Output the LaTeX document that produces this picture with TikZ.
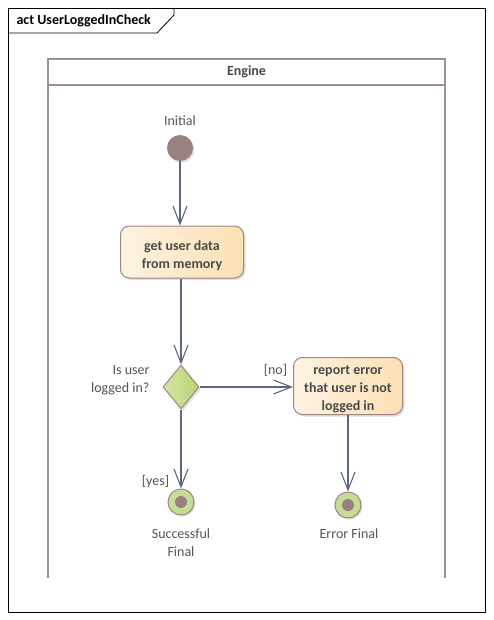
\documentclass[tikz,border=0pt]{standalone}
\usepackage{fontspec}
\setmainfont{Carlito}
\usetikzlibrary{arrows.meta,shapes.geometric,shadows}
\definecolor{edge}{HTML}{5B6683}
\definecolor{bord}{HTML}{A08585}
\definecolor{pool}{HTML}{9D8F8F}
\definecolor{initc}{HTML}{9A8080}
\definecolor{txt}{HTML}{4A4A4A}
\definecolor{lbl}{HTML}{555555}
\definecolor{crL}{HTML}{FDF3E2}
\definecolor{crR}{HTML}{FCE0B3}
\definecolor{grL}{HTML}{D3E6A0}
\definecolor{grR}{HTML}{B9D47A}
\tikzset{
  x=1pt,y=-1pt,
  every node/.style={font=\fontsize{14}{18}\selectfont},
  actbox/.style={draw=bord,line width=1pt,rounded corners=9pt,left color=crL,right color=crR,
    minimum width=123pt,minimum height=52pt,inner sep=0pt,
    drop shadow={shadow xshift=2pt,shadow yshift=-2pt,opacity=0.25}},
  acttext/.style={align=center,text=txt,font=\fontsize{14}{18}\selectfont\bfseries,inner sep=0pt},
  decis/.style={diamond,draw=bord,line width=1pt,left color=grL,right color=grR,minimum width=36pt,minimum height=44pt,inner sep=0pt,aspect=0.82,
    drop shadow={shadow xshift=2pt,shadow yshift=-2pt,opacity=0.25}},
  initn/.style={circle,fill=initc,minimum size=26pt,inner sep=0pt,
    drop shadow={shadow xshift=1.5pt,shadow yshift=-1.5pt,opacity=0.25}},
  finaln/.style={circle,draw=bord,line width=1pt,fill=grR!80!white,minimum size=26pt,inner sep=0pt,
    drop shadow={shadow xshift=1.5pt,shadow yshift=-1.5pt,opacity=0.25}},
  dotn/.style={circle,fill=initc,minimum size=12pt,inner sep=0pt},
  flow/.style={draw=edge,line width=1.1pt,-{Straight Barb[length=18pt,width=14pt,line width=1.1pt]}},
  lab/.style={text=lbl,align=center},
}
\begin{document}
\begin{tikzpicture}
\useasboundingbox (0,0) rectangle (493,620);
\fill[white] (0,0) rectangle (493,620);
% frame
\draw[black,line width=0.8pt] (8,8) rectangle (485,612);
\draw[black,line width=0.8pt] (8,33) -- (157,33) -- (174,15) -- (174,8);
\node[anchor=west,font=\fontsize{14}{16}\selectfont\bfseries] (title) at (13,20.5) {act UserLoggedInCheck};
% pool
\draw[pool,line width=1.8pt] (48,578) -- (48,59) -- (445,59) -- (445,578);
\draw[pool,line width=1.8pt] (48,85) -- (445,85);
\node[text=txt,font=\fontsize{14}{16}\selectfont\bfseries] (pool) at (246.5,72) {Engine};
% nodes
\node[initn] (init) at (180,148) {};
\node[lab,anchor=south] (initl) at (180,129) {Initial};
\node[actbox] (get) at (182,252) {};
\node[acttext] (gett) at ([yshift=-3.5pt]get.center) {get user data\\from memory};
\node[decis] (dec) at (181,387) {};
\node[lab,align=right,anchor=east] (decl) at (153,380) {Is user\\logged in?};
\node[actbox,minimum width=109pt,minimum height=57pt] (rep) at (348,386) {};
\node[acttext] (rept) at ([yshift=-3.5pt]rep.center) {report error\\that user is not\\logged in};
\node[finaln] (succ) at (181,502) {};
\node[dotn] (succd) at (succ) {};
\node[finaln] (err) at (348,505) {};
\node[dotn] (errd) at (err) {};
\node[lab,anchor=north] (succl) at (181,525) {Successful\\Final};
\node[lab,anchor=north] (errl) at (349,525) {Error Final};
% edges
\draw[flow] (init) -- (init |- get.north);
\draw[flow] (get.south -| dec.north) -- (dec.north);
\draw[flow] (dec.east) -- (dec.east -| rep.west) node[lab,pos=1,anchor=south east,xshift=-2pt,yshift=7pt] {[no]};
\draw[flow] (dec.south) -- (succ.north) node[lab,pos=1,anchor=south east,xshift=-8pt,yshift=-3pt] {[yes]};
\draw[flow] (rep.south -| err.north) -- (err.north);
\end{tikzpicture}
\end{document}
